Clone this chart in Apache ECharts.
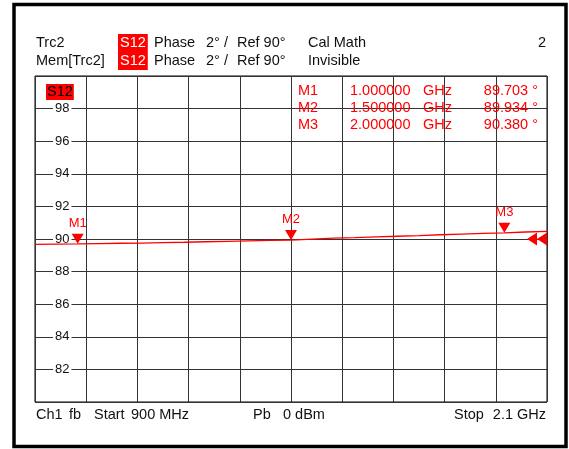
<!DOCTYPE html>
<html>
<head>
<meta charset="utf-8">
<script src="https://cdn.jsdelivr.net/npm/echarts@6/dist/echarts.min.js"></script>
<style>
html,body{margin:0;padding:0;background:#fff;}
#chart{width:569px;height:449px;}
</style>
</head>
<body>
<div id="chart"></div>
<script>
// ---- data ----
var freqMHz = [900,950,1000,1050,1100,1150,1200,1250,1300,1350,1400,1450,1500,1550,1600,1650,1700,1750,1800,1850,1900,1950,2000,2050,2100];
var phaseDeg = [89.67,89.69,89.70,89.72,89.74,89.75,89.78,89.80,89.83,89.86,89.89,89.91,89.93,89.99,90.05,90.08,90.13,90.17,90.21,90.26,90.30,90.34,90.38,90.43,90.47];
var markerNames = ['M1','M2','M3'];
var markerFreqMHz = [1000,1500,2000];
var markerPhase = [89.703,89.934,90.380];
var yTicks = [80,82,84,86,88,90,92,94,96,98,100];
var refLevel = 90;
var startMHz = 900, stopMHz = 2100;

var FONT = '"Liberation Sans", Arial, sans-serif';
var RED = '#ff0000';

var chart = echarts.init(document.getElementById('chart'), null, {renderer:'canvas'});

function txt(t, x, y, opt) {
  opt = opt || {};
  var st = {
    text: t, x: x, y: y,
    fill: opt.fill || '#111',
    font: (opt.size || 14.5) + 'px ' + FONT,
    align: opt.align || 'left',
    verticalAlign: 'middle',
    textAlign: opt.align || 'left',
    textVerticalAlign: 'middle'
  };
  if (opt.bg) { st.backgroundColor = opt.bg; st.padding = opt.pad || [2,2,1,2]; }
  return {type:'text', z: 100, style: st};
}

var graphics = [
  {type:'rect', z: 100, shape:{x:14, y:4.5, width:552, height:442}, style:{fill:'none', stroke:'#000', lineWidth:3.5}},
  txt('Trc2', 36, 43),
  txt('S12', 118, 43, {fill:'#fff', bg:RED}),
  txt('Phase', 154, 43),
  txt('2\u00b0 /', 206, 43),
  txt('Ref 90\u00b0', 237, 43),
  txt('Cal Math', 308, 43),
  txt('2', 546, 43, {align:'right'}),
  txt('Mem[Trc2]', 36, 61),
  txt('S12', 118, 61, {fill:'#fff', bg:RED}),
  txt('Phase', 154, 61),
  txt('2\u00b0 /', 206, 61),
  txt('Ref 90\u00b0', 237, 61),
  txt('Invisible', 308, 61),
  txt('S12', 46, 92, {fill:'#000', bg:RED, pad:[1,1,0,1]}),
  txt('Ch1', 36, 415),
  txt('fb', 69, 415),
  txt('Start', 94, 415),
  txt(startMHz + ' MHz', 131, 415),
  txt('Pb', 253, 415),
  txt('0 dBm', 283, 415),
  txt('Stop', 454, 415),
  txt((stopMHz/1000) + ' GHz', 546, 415, {align:'right'})
];
var rowY = [91, 108, 125];
for (var i = 0; i < markerNames.length; i++) {
  graphics.push(txt(markerNames[i], 298, rowY[i], {fill:RED}));
  graphics.push(txt((markerFreqMHz[i]/1000).toFixed(6), 350, rowY[i], {fill:RED}));
  graphics.push(txt('GHz', 423, rowY[i], {fill:RED}));
  graphics.push(txt(markerPhase[i].toFixed(3) + ' \u00b0', 538, rowY[i], {fill:RED, align:'right'}));
}

var traceData = freqMHz.map(function(f, i){ return [f, phaseDeg[i]]; });
var markData = markerNames.map(function(n, i){
  return {name:n, coord:[markerFreqMHz[i], markerPhase[i]]};
});

chart.setOption({
  animation: false,
  backgroundColor: '#fff',
  grid: {left:35, top:76, width:512, height:326, show:true, borderColor:'#000', borderWidth:1, backgroundColor:'#fff'},
  xAxis: [
    {type:'value', min:startMHz, max:stopMHz, show:false},
    {type:'value', min:0, max:10, interval:1, position:'bottom',
     axisLine:{show:false}, axisTick:{show:false}, axisLabel:{show:false},
     splitLine:{show:true, lineStyle:{color:'#333', width:1}}}
  ],
  yAxis: {
    type:'value', min:yTicks[0], max:yTicks[yTicks.length-1], interval:2,
    axisLine:{show:false}, axisTick:{show:false},
    splitLine:{show:true, lineStyle:{color:'#333', width:1}},
    axisLabel:{inside:true, margin:18, color:'#111', fontSize:13, fontFamily:FONT,
      showMinLabel:false, showMaxLabel:false, backgroundColor:'#fff', padding:[0,2,0,2]}
  },
  series: [
    {type:'line', xAxisIndex:0, data:traceData, showSymbol:false, symbol:'none',
     lineStyle:{color:RED, width:1.3}, z:5,
     markPoint:{
       symbol:'triangle', symbolRotate:180, symbolSize:[12,10], symbolOffset:[0,-5],
       itemStyle:{color:RED},
       label:{show:true, position:'top', distance:4, formatter:'{b}', color:RED, fontSize:13, fontFamily:FONT},
       data: markData
     }},
    {type:'scatter', xAxisIndex:0, data:[[stopMHz, refLevel]], symbolSize:0, silent:true,
     markPoint:{
       symbol:'path://M10,0 L0,6.5 L10,13 Z M20,0 L10,6.5 L20,13 Z', symbolSize:[20,13], symbolOffset:[-10,0],
       symbolKeepAspect:false,
       itemStyle:{color:RED}, label:{show:false},
       data:[{coord:[stopMHz, refLevel]}]
     }}
  ],
  graphic: graphics
});
</script>
</body>
</html>
